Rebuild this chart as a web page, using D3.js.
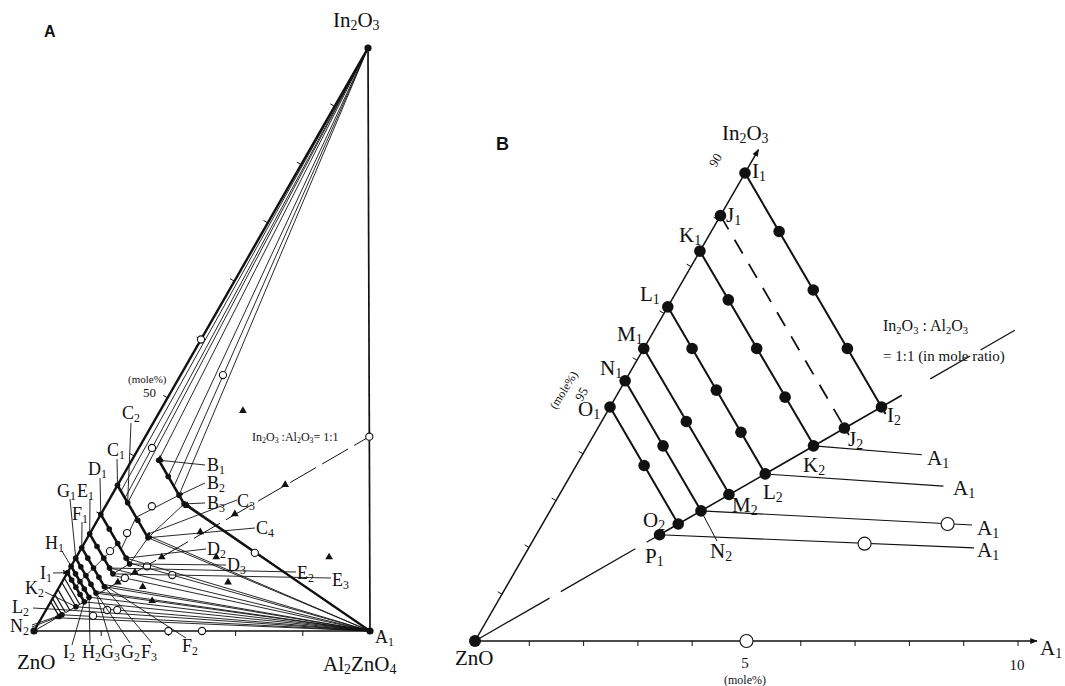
<!DOCTYPE html>
<html>
<head>
<meta charset="utf-8">
<script src="https://cdn.jsdelivr.net/npm/d3@7"></script>
<style>
  body { margin: 0; background: #fff; }
  svg { display: block; }
  text { font-family: "Liberation Serif", "Times New Roman", serif; fill: #111; }
  .panel { font-family: "Liberation Sans", Arial, sans-serif; font-weight: bold; }
</style>
</head>
<body>
<div id="chart"></div>
<script>
// compositions are [In2O3 mole%, Al2O3 mole%]
const ZNO = [0, 0], IN2O3 = [100, 0], A1 = [0, 50];

// ---- panel A ----
const seriesA = ["B", "C", "D", "E", "F", "G", "H", "I", "J", "K", "L", "M", "N", "O"];
const seriesStartA = [[29.3, 4.0], [25, 0], [20, 0], [16.67, 0], [14.29, 0], [12.5, 0], [11.11, 0],
  [10, 0], [9.09, 0], [8.33, 0], [7.14, 0], [6.25, 0], [5.56, 0], [5, 0]];
const seriesEndA = [[21.8, 11.5], [16, 9], [11.5, 8.5], [9.8, 6.87], [7.6, 6.69], [6.5, 6.0], [5.8, 5.31],
  [5, 5], [4.55, 4.55], [4.17, 4.17], [3.57, 3.57], [3.13, 3.13], [2.78, 2.78], [2.5, 2.5]];
const beadsA = [[29.3, 26.5, 23.3, 21.8], [25, 22, 19, 16], [20, 17.5, 15, 12.5, 11.5],
  [16.67, 14.5, 12.5, 10.8, 9.8], [14.29, 12.5, 10.8, 9.2, 7.6], [12.5, 11, 9.5, 8, 6.5],
  [11.11, 9.8, 8.5, 7.2, 5.8], [10, 8.75, 7.5, 6.25, 5], [], [4.17], [], [], [2.78], [2.5]];
const inFanA = [[24, 1], [22.8, 2.2], [22, 3], [29.3, 4], [26.5, 6.8], [24.8, 8.5], [23.3, 10]];
const alFanA = [[21.8, 11.5], [22.3, 11.0], [16.5, 8.5], [16, 9], [12.5, 7.5], [11.7, 8.3], [10.8, 5.9],
  [9.5, 7.15], [8.0, 6.3], [7.6, 6.69], [6.8, 5.7], [6.5, 6.0], [5.8, 5.31], [5, 5], [4.17, 4.17],
  [3.57, 3.57], [2.78, 2.78], [2.27, 2.27]];
const tiesA = [[[19.5, 5.5], [23.3, 10]], [[16, 9], [21.8, 11.5]], [[14, 6], [19.5, 5.5]],
  [[12.5, 4.17], [15, 5]], [[11.5, 8.5], [16, 9]], [[9.8, 6.87], [11.5, 8.5]], [[10.8, 3.49], [12.5, 4.17]],
  [[9.5, 3.0], [10.8, 3.49]], [[8.5, 2.61], [9.5, 3.0]], [[7.5, 2.5], [8.5, 2.61]]];
const openA = [[50, 0], [43.9, 6.3], [33.33, 33.33], [31.4, 1.95], [21.4, 6.9], [16.8, 5.5], [13.7, 4.5],
  [13.4, 26.2], [11.1, 11.3], [9.6, 15.8], [9.1, 9.0], [3.6, 9.1], [3.6, 10.6], [2.6, 7.5], [0, 20], [0, 25]];
const triA = [[37.6, 12.4], [29.3, 4.2], [21.3, 12.2], [24.9, 25], [19.9, 20], [16.8, 16.4], [12.5, 12.8],
  [12.5, 20.9], [12.5, 37.7], [9.9, 10.1], [8.2, 8.4], [7.4, 12.5], [8.2, 24.8], [5.0, 15.1]];
const ticksInA = [10, 20, 30, 40, 50, 60, 70, 80, 90];
const ticksAlA = [10, 20, 30, 40];
const labelsA = [
  { t: "C_2", x: 122, y: 419, lx: 131, ly: 423, to: [22, 3] },
  { t: "C_1", x: 107, y: 456, lx: 117, ly: 459, to: [25, 0] },
  { t: "D_1", x: 88, y: 475, lx: 100, ly: 478, to: [20, 0] },
  { t: "G_1", x: 57, y: 497, lx: 70, ly: 499, to: [12.5, 0] },
  { t: "E_1", x: 77, y: 497, lx: 90, ly: 499, to: [16.67, 0] },
  { t: "F_1", x: 72, y: 520, lx: 82, ly: 522, to: [14.29, 0] },
  { t: "H_1", x: 45, y: 549, lx: 62, ly: 551, to: [11.11, 0] },
  { t: "I_1", x: 40, y: 579, lx: 53, ly: 573, to: [10, 0], arrow: true },
  { t: "K_2", x: 25, y: 594, lx: 45, ly: 592, to: [4.17, 4.17] },
  { t: "L_2", x: 12, y: 613, lx: 33, ly: 608, to: [3.57, 3.57] },
  { t: "N_2", x: 10, y: 632, lx: 32, ly: 625, to: [2.78, 2.78], arrow: true },
  { t: "", x: 0, y: 0, lx: 32, ly: 627, to: [2.5, 2.5], arrow: true },
  { t: "I_2", x: 63, y: 658, lx: 72, ly: 645, to: [5, 5] },
  { t: "H_2", x: 82, y: 658, lx: 90, ly: 644, to: [5.8, 5.31] },
  { t: "G_3", x: 101, y: 658, lx: 111, ly: 643, to: [6.5, 6.0] },
  { t: "G_2", x: 121, y: 658, lx: 130, ly: 643, to: [6.8, 5.7] },
  { t: "F_3", x: 141, y: 658, lx: 152, ly: 643, to: [7.6, 6.69] },
  { t: "F_2", x: 182, y: 652, lx: 186, ly: 638, to: [8, 6.3] },
  { t: "B_1", x: 207, y: 471, lx: 205, ly: 465, to: [29.3, 4], arrow: true },
  { t: "B_2", x: 207, y: 489, lx: 205, ly: 483, to: [23.3, 10], arrow: true },
  { t: "B_3", x: 207, y: 509, lx: 205, ly: 503, to: [21.8, 11.5], arrow: true },
  { t: "C_3", x: 237, y: 507, lx: 237, ly: 500, to: [16.5, 8.5], arrow: true },
  { t: "C_4", x: 256, y: 534, lx: 255, ly: 528, to: [16, 9], arrow: true },
  { t: "D_2", x: 207, y: 555, lx: 206, ly: 549, to: [12.5, 7.5] },
  { t: "D_3", x: 227, y: 571, lx: 226, ly: 565, to: [11.5, 8.5] },
  { t: "E_2", x: 297, y: 579, lx: 296, ly: 572, to: [10.8, 5.9] },
  { t: "E_3", x: 332, y: 586, lx: 331, ly: 578, to: [9.8, 6.87] }
];

// ---- panel B ----
const seriesB = ["I", "J", "K", "L", "M", "N", "O"];
const seriesStartB = [[10, 0], [9.09, 0], [8.33, 0], [7.14, 0], [6.25, 0], [5.56, 0], [5, 0]];
const seriesEndB = [[5, 5], [4.55, 4.55], [4.17, 4.17], [3.57, 3.57], [3.13, 3.13], [2.78, 2.78], [2.5, 2.5]];
const midDotsB = [[8.75, 7.5, 6.25], [], [7.29, 6.25, 5.21], [6.25, 5.36, 4.46], [4.69], [4.17], [3.75]];
const P1 = [2.27, 2.27];
const tieStartB = [[4.17, 4.17], [3.57, 3.57], [2.78, 2.78], [2.27, 2.27]];
const tieEndB = [[3.98, 6.25], [3.31, 6.98], [2.48, 7.92], [1.99, 8.2]];
const openB = [[2.5, 7.46], [2.08, 6.14], [0, 5]];
const ticksB = [1, 2, 3, 4, 5, 6, 7, 8, 9, 10];
const labelsB = [
  { t: "I_1", x: 752, y: 178 }, { t: "J_1", x: 726, y: 222 }, { t: "K_1", x: 679, y: 242 },
  { t: "L_1", x: 640, y: 301 }, { t: "M_1", x: 617, y: 341 }, { t: "N_1", x: 600, y: 375 },
  { t: "O_1", x: 578, y: 416 }, { t: "I_2", x: 887, y: 422 }, { t: "J_2", x: 848, y: 446 },
  { t: "K_2", x: 803, y: 472 }, { t: "L_2", x: 763, y: 499 }, { t: "M_2", x: 732, y: 512 },
  { t: "N_2", x: 710, y: 558 }, { t: "O_2", x: 643, y: 527 }, { t: "P_1", x: 645, y: 563 }
];
const a1LabelsB = [[927, 465], [953, 495], [977, 535], [977, 557]];

const svg = d3.select("#chart").append("svg").attr("width", 1065).attr("height", 686);

svg.append("defs").append("marker").attr("id", "arr")
  .attr("viewBox", "0 0 10 10").attr("refX", 9).attr("refY", 5)
  .attr("markerWidth", 5).attr("markerHeight", 5).attr("orient", "auto")
  .append("path").attr("d", "M0,1L10,5L0,9z").attr("fill", "#111");

// skewed ternary frame: x from Al2O3 plus a lean from In2O3, y from In2O3
const aAl = d3.scaleLinear().domain([0, 50]).range([34, 370]);
const aIn = d3.scaleLinear().domain([0, 100]).range([631, 48]);
const aLean = d3.scaleLinear().domain([0, 100]).range([0, 334]);
const pA = c => [aAl(c[1]) + aLean(c[0]), aIn(c[0])];

const bAl = d3.scaleLinear().domain([0, 10]).range([475, 1018]);
const bIn = d3.scaleLinear().domain([0, 10]).range([641, 173]);
const bLean = d3.scaleLinear().domain([0, 10]).range([0, 270]);
const pB = c => [bAl(c[1]) + bLean(c[0]), bIn(c[0])];

function seg(g, p, q, w, dash, arrow) {
  const l = g.append("line")
    .attr("x1", p[0]).attr("y1", p[1]).attr("x2", q[0]).attr("y2", q[1])
    .attr("stroke", "#111").attr("stroke-width", w || 1);
  if (dash) l.attr("stroke-dasharray", dash);
  if (arrow) l.attr("marker-end", "url(#arr)");
  return l;
}
function dot(g, p, r) {
  g.append("circle").attr("cx", p[0]).attr("cy", p[1]).attr("r", r).attr("fill", "#111");
}
function ring(g, p, r) {
  g.append("circle").attr("cx", p[0]).attr("cy", p[1]).attr("r", r)
    .attr("fill", "#fff").attr("stroke", "#111").attr("stroke-width", 1.1);
}
// "_x" makes x a subscript
function label(g, x, y, s, size, anchor, rot) {
  const t = g.append("text").attr("x", x).attr("y", y)
    .style("font-size", size + "px").attr("text-anchor", anchor || "start");
  if (rot) t.attr("transform", "rotate(" + rot + "," + x + "," + y + ")");
  let low = false, k = 0;
  while (k < s.length) {
    if (s[k] === "_") {
      t.append("tspan").text(s[k + 1]).style("font-size", (size * 0.66) + "px")
        .attr("dy", low ? 0 : size * 0.16);
      low = true; k += 2;
    } else {
      let run = "";
      while (k < s.length && s[k] !== "_") run += s[k++];
      t.append("tspan").text(run).attr("dy", low ? -size * 0.16 : 0);
      low = false;
    }
  }
  return t;
}
function tick(g, p, dx, dy, len) {
  seg(g, p, [p[0] + dx * len, p[1] + dy * len], 1);
}

// ================= panel A =================
const gA = svg.append("g");

inFanA.forEach(c => seg(gA, pA(IN2O3), pA(c), 0.9));
alFanA.forEach((c, k) => seg(gA, pA(A1), pA(c), k === 0 ? 2.2 : 0.9));
tiesA.forEach(t => seg(gA, pA(t[0]), pA(t[1]), 0.9));
seg(gA, pA(ZNO), pA([33.33, 33.33]), 1, "30,7");

seriesA.forEach((n, k) => {
  const s = seriesStartA[k], e = seriesEndA[k], sum = s[0] + s[1];
  seg(gA, pA(s), pA(e), k < 8 ? 2.6 : 1.2);
  beadsA[k].forEach(i => dot(gA, pA([i, sum - i]), 2.8));
});

// frame
seg(gA, pA(ZNO), pA(IN2O3), 2.4);
seg(gA, pA(IN2O3), pA(A1), 1.7);
seg(gA, pA(ZNO), pA(A1), 1.7);
const nA = [-0.868, -0.497];
ticksInA.forEach(i => tick(gA, pA([i, 0]), nA[0], nA[1], 5));
ticksAlA.forEach(a => tick(gA, pA([0, a]), 0, 1, 5));

triA.forEach(c => {
  const p = pA(c);
  gA.append("path").attr("d", d3.symbol(d3.symbolTriangle, 26)())
    .attr("transform", "translate(" + p[0] + "," + (p[1] - 1) + ")").attr("fill", "#111");
});
openA.forEach(c => ring(gA, pA(c), 3.6));
[ZNO, IN2O3, A1].forEach(c => dot(gA, pA(c), 3.6));

labelsA.forEach(d => {
  if (d.t) label(gA, d.x, d.y, d.t, 18);
  seg(gA, [d.lx, d.ly], pA(d.to), 0.9, null, d.arrow);
});
label(gA, 44, 37, "A", 16).attr("class", "panel");
label(gA, 333, 27, "In_2O_3", 21);
label(gA, 323, 671, "Al_2ZnO_4", 21);
label(gA, 17, 669, "ZnO", 21);
label(gA, 375, 643, "A_1", 18);
label(gA, 128, 383, "(mole%)", 11);
label(gA, 143, 397, "50", 13);
label(gA, 252, 441, "In_2O_3 :Al_2O_3= 1:1", 12);

// ================= panel B =================
const gB = svg.append("g");

// 1:1 line
seg(gB, pB(ZNO), pB(P1), 1.3, "86,13");
seg(gB, pB(P1), pB([5.25, 5.25]), 1.6);
seg(gB, pB([5.6, 5.6]), pB([6.64, 6.64]), 1.3, "46,12");

tieStartB.forEach((c, k) => seg(gB, pB(c), pB(tieEndB[k]), 1.1));

seriesB.forEach((n, k) => {
  const s = seriesStartB[k], e = seriesEndB[k], sum = s[0] + s[1];
  const over = [e[0] - 0.15, e[1] + 0.15];
  if (n === "J") {
    seg(gB, pB(s), pB(e), 1.8, "16,12");
    seg(gB, pB([e[0] + 0.1, e[1] - 0.1]), pB(over), 1.6);
  } else {
    seg(gB, pB(s), pB(n === "I" ? over : e), 2);
  }
  [s[0], ...midDotsB[k], e[0]].forEach(i => dot(gB, pB([i, sum - i]), 5.8));
});
dot(gB, pB(P1), 5.8);

// frame and ticks
seg(gB, pB(ZNO), pB([10.5, 0]), 1.5, null, true);
seg(gB, pB(ZNO), pB([0, 10.35]), 1.5, null, true);
const nB = [-0.866, -0.5];
ticksB.forEach(i => tick(gB, pB([i, 0]), nB[0], nB[1], 5));
ticksB.forEach(a => tick(gB, pB([0, a]), 0, 1, 5));
openB.forEach(c => ring(gB, pB(c), 6.5));
dot(gB, pB(ZNO), 6);

labelsB.forEach(d => label(gB, d.x, d.y, d.t, 21));
seg(gB, [717, 541], pB(seriesEndB[5]), 1, null, true);
a1LabelsB.forEach(p => label(gB, p[0], p[1], "A_1", 21));
label(gB, 496, 150, "B", 18).attr("class", "panel");
label(gB, 722, 140, "In_2O_3", 21);
label(gB, 455, 665, "ZnO", 21);
label(gB, 1040, 655, "A_1", 21);
label(gB, 745, 668, "5", 15, "middle");
label(gB, 745, 684, "(mole%)", 12, "middle");
label(gB, 1017, 670, "10", 15, "middle");
label(gB, 883, 331, "In_2O_3 : Al_2O_3", 16);
label(gB, 883, 361, "= 1:1 (in mole ratio)", 15);
label(gB, 716, 168, "90", 13, "start", -60);
label(gB, 582, 402, "95", 13, "start", -60);
label(gB, 556, 410, "(mole%)", 12, "start", -58);
</script>
</body>
</html>
